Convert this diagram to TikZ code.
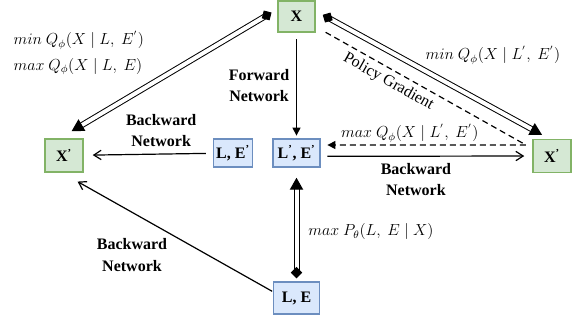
\documentclass[tikz,border=0pt]{standalone}
\usepackage[no-math]{fontspec}
\setmainfont{Liberation Serif}
\usepackage{amsmath}
\usepackage{xcolor}
\usetikzlibrary{positioning, arrows.meta}
\definecolor{gfill}{HTML}{D5E8D4}
\definecolor{gline}{HTML}{82B366}
\definecolor{bfill}{HTML}{DAE8FC}
\definecolor{bline}{HTML}{6C8EBF}
\newcommand{\dgfont}{\fontsize{12}{16}\selectfont}
\tikzset{
  gbox/.style={rectangle, draw=gline, fill=gfill, line width=1.1pt, font=\dgfont\bfseries,
               minimum width=28.5pt, minimum height=24.75pt, inner sep=2pt},
  bbox/.style={rectangle, draw=bline, fill=bfill, line width=1.1pt, font=\dgfont\bfseries,
               minimum width=28.5pt, minimum height=21pt, inner sep=2pt},
  lbl/.style={align=center, font=\dgfont\bfseries, inner sep=2pt},
  mlbl/.style={inner sep=1pt},
  arr/.style={-{Straight Barb[length=5.5pt, width=7pt]}, line width=0.9pt},
  farr/.style={-{Triangle[length=6pt, width=6pt]}, line width=0.9pt},
  dbl/.style={double, double distance=3pt, line width=0.75pt,
              {Diamond[length=8.5pt, width=8.5pt]}-{Triangle[length=9pt, width=10pt]}},
}

\begin{document}
\begin{tikzpicture}[x=0.75pt, y=-0.75pt, every node/.append style={font=\dgfont}]
  \useasboundingbox (0,0) rectangle (582,322);

  \node[gbox, minimum width=27.75pt, minimum height=23.25pt] (x) at (296.5,16.5) {X};
  \node[gbox] (xl) at (64,155.5) {X\textsuperscript{'}};
  \node[gbox] (xr) at (552,156) {X\textsuperscript{'}};
  \node[bbox] (lep) at (233,153) {L, E\textsuperscript{'}};
  \node[bbox, minimum width=35.25pt] (lpep) at (296.5,153) {L\textsuperscript{'}, E\textsuperscript{'}};
  \node[bbox, minimum width=34.5pt, minimum height=24pt] (le) at (296.5,298) {L, E};
  \coordinate (pgturn) at (526,145);

  % objectives
  \draw[dbl, shorten <=5pt, shorten >=10.4pt] (x.159) -- (xl.104);
  \draw[dbl, shorten <=6pt, shorten >=6.2pt] (x.16) -- (xr.99);
  \draw[dbl, shorten <=2.25pt, shorten >=7.5pt] (le) --
    node[mlbl, pos=0.437, right=7.5pt] {$max\ P_{\theta}(L,\ E \mid X)$} (lpep);
  \node[mlbl, anchor=west] at (12,40) {$min\ Q_{\phi}(X \mid L,\ E^{'})$};
  \node[mlbl, anchor=west] at (12,66.5) {$max\ Q_{\phi}(X \mid L,\ E)$};
  \node[mlbl, anchor=west] at (424,55) {$min\ Q_{\phi}(X \mid L^{'},\ E^{'})$};

  % networks
  \draw[farr, shorten <=5pt, shorten >=2pt] (x) --
    node[lbl, midway, left=3pt] {Forward\\Network} (lpep);
  \draw[arr, shorten <=5.25pt, shorten >=6.75pt] (lep) --
    node[lbl, pos=0.4, above=3pt] {Backward\\Network} (xl);
  \draw[arr, shorten <=5pt, shorten >=6pt] ([yshift=-2.5pt]lpep.east) --
    node[lbl, pos=0.45, below=3pt] {Backward\\Network} (xr.west);
  \draw[arr, shorten <=0.5pt, shorten >=13.5pt] (le.165) -- (xl.-97);
  \node[lbl] at (132,255) {Backward\\Network};

  % policy gradient
  \draw[farr, dash pattern=on 4.5pt off 3pt, shorten <=8.5pt, shorten >=5pt] (x.-28) --
    node[mlbl, pos=0.375, sloped, below=2.5pt] {Policy Gradient} (pgturn) --
    node[mlbl, pos=0.566, above=0.5pt] {$max\ Q_{\phi}(X \mid L^{'},\ E^{'})$} ([yshift=6pt]lpep.east);
\end{tikzpicture}
\end{document}
